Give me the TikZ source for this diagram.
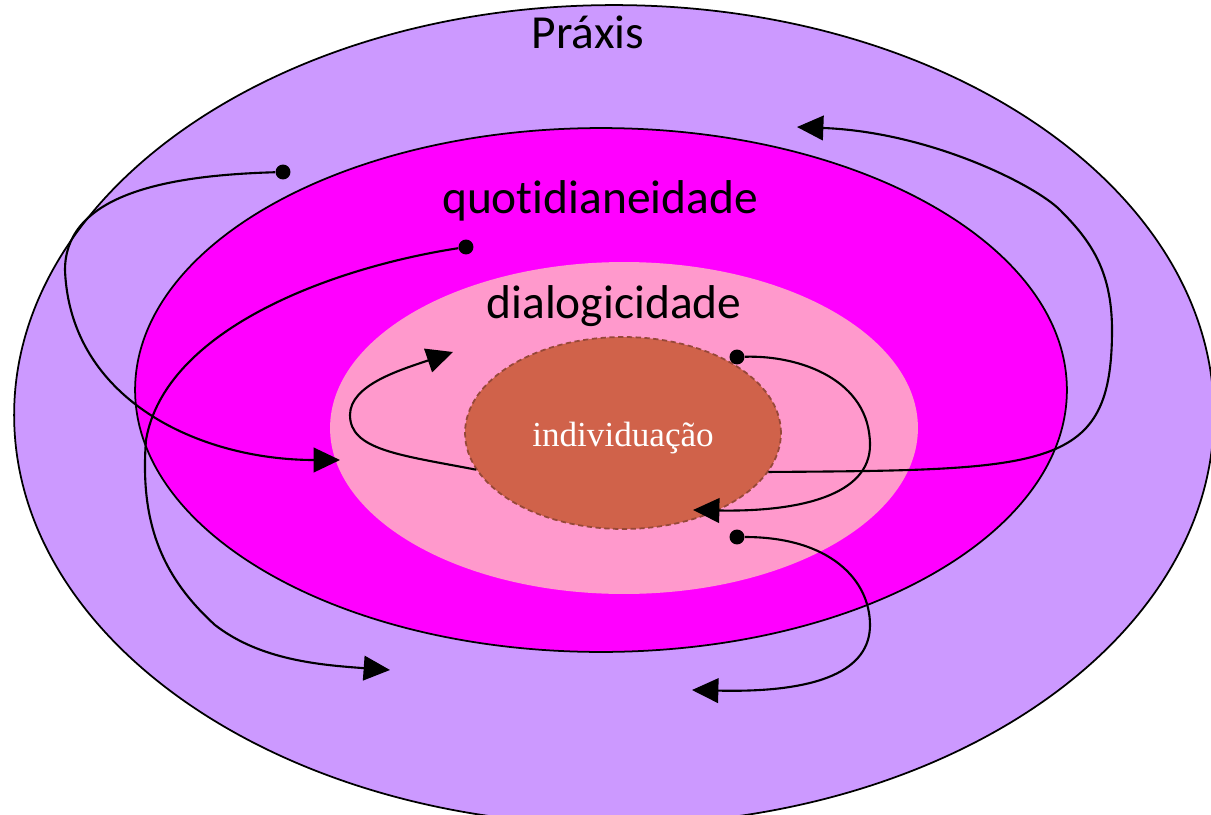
\documentclass[tikz,border=0pt]{standalone}
\usepackage{fontspec}
\setmainfont{Carlito}[Ligatures = NoCommon]
\newfontfamily\serifface{Liberation Serif}
\usetikzlibrary{arrows.meta, shapes.geometric}
\definecolor{praxiscol}{RGB}{204,153,255}
\definecolor{quotcol}{RGB}{255,0,255}
\definecolor{dialcol}{RGB}{255,153,204}
\definecolor{indivcol}{RGB}{208,98,74}
\definecolor{indivline}{RGB}{150,72,56}

\begin{document}
\begin{tikzpicture}[x = 0.02cm, y = -0.02cm,
		zone/.style = {draw, ellipse, inner sep = 0pt, line width = 1pt},
		endpt/.style = {circle, fill = black, inner sep = 0pt, minimum size = 8.5pt},
		flow/.style = {line width = 1.2pt, -{Triangle[length = 15pt, width = 14pt]}}]
		\clip (0,0) rectangle (1211,815);
		\node[zone, fill = praxiscol, minimum width = 24cm, minimum height = 16.4cm] (praxis) at (614,415) {};
		\node[zone, fill = quotcol, minimum width = 18.64cm, minimum height = 10.48cm] (quot) at (601,390) {};
		\node[ellipse, fill = dialcol, inner sep = 0pt, minimum width = 11.76cm, minimum height = 6.64cm] (dial) at (624,428) {};
		\node[zone, fill = indivcol, draw = indivline, line width = 1pt, dash pattern = on 3pt off 2pt, minimum width = 6.32cm, minimum height = 3.84cm] (indiv) at (623,433) {};
		\node[anchor = base] (tpraxis) at (588,48) {\fontsize{27}{32}\selectfont Práxis};
		\node[anchor = base] (tquot) at (600,213) {\fontsize{27}{32}\selectfont quotidianeidade};
		\node[anchor = base] (tdial) at (614,318) {\fontsize{27}{32}\selectfont dialogicidade};
		\node[anchor = base, text = white] (tindiv) at (623,446) {\serifface\fontsize{20}{24}\selectfont individuação};
		\node[endpt] (a) at (283,172) {};
		\node[endpt] (b) at (466,247) {};
		\node[endpt] (c) at (737,357) {};
		\node[endpt] (d) at (737,537) {};
		\coordinate (a1) at (340,460);
		\coordinate (b1) at (390,670);
		\coordinate (e1) at (453,352);
		\coordinate (c1) at (693,510);
		\coordinate (f1) at (797,127);
		\coordinate (d1) at (692,690);
		\draw[flow] (a) .. controls (180,175) and (65,190) .. (65,270) .. controls (70,400) and (200,460) .. (a1);
		\draw[flow] (b) .. controls (330,268) and (165,330) .. (146,440) .. controls (140,520) and (160,575) .. (215,625) .. controls (260,660) and (320,665) .. (b1);
		\draw[flow] (indiv.194) .. controls (400,455) and (350,450) .. (350,415) .. controls (350,385) and (400,370) .. (e1);
		\draw[flow] (c) .. controls (800,355) and (870,380) .. (870,445) .. controls (870,495) and (800,512) .. (c1);
		\draw[flow] (indiv.-15) .. controls (1050,470) and (1112,470) .. (1112,330) .. controls (1112,270) and (1090,240) .. (1060,210) .. controls (1035,185) and (930,132) .. (f1);
		\draw[flow] (d) .. controls (830,537) and (870,580) .. (870,625) .. controls (870,670) and (820,693) .. (d1);
	\end{tikzpicture}
\end{document}
